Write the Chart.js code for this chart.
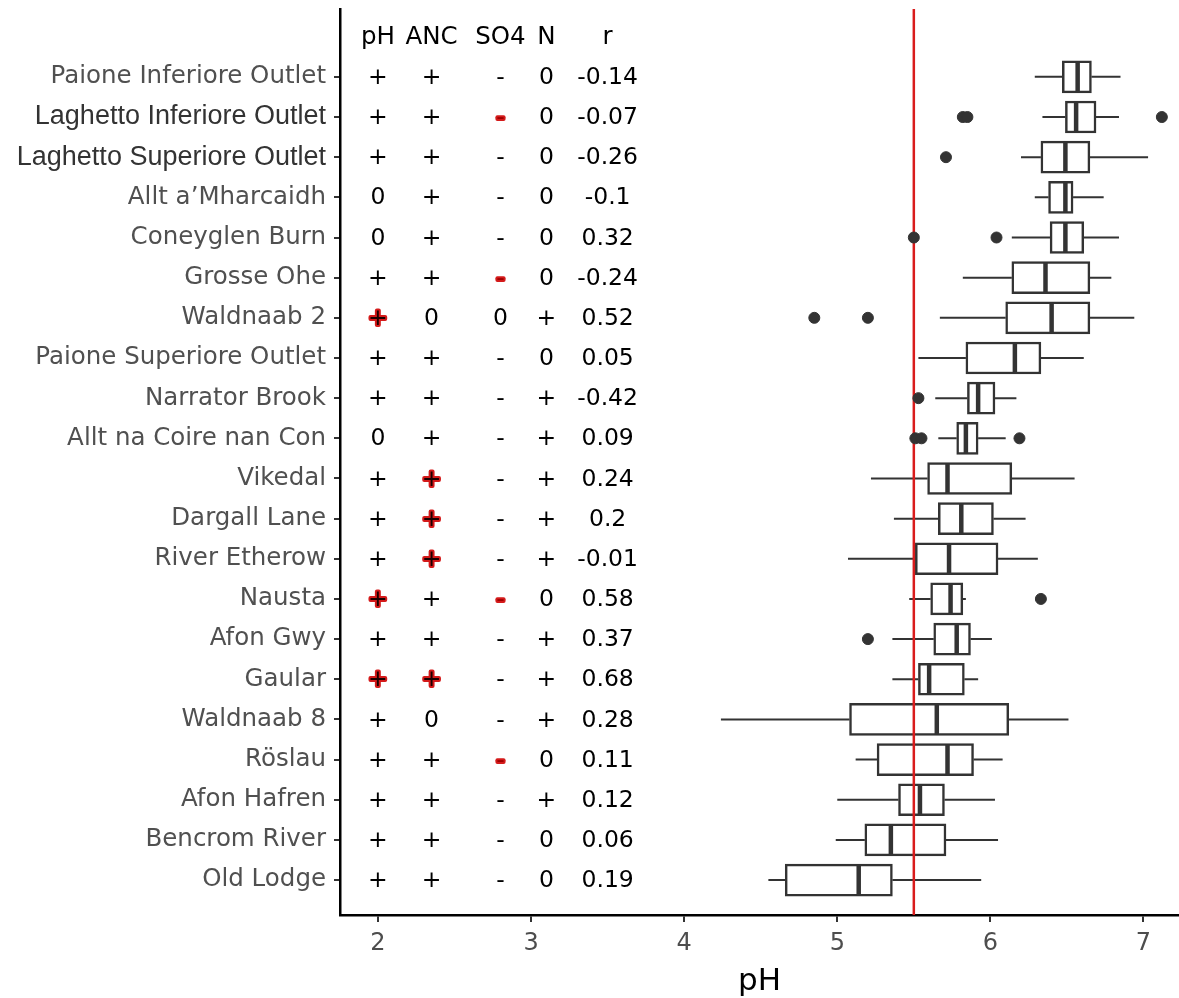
<!DOCTYPE html>
<html>
<head>
<meta charset="utf-8">
<title>pH by site</title>
<script src="https://cdn.jsdelivr.net/npm/chart.js@4.4.1/dist/chart.umd.min.js"></script>
<style>
  html, body { margin: 0; padding: 0; background: #fff; overflow: hidden; }
  #wrap { width: 1179px; height: 998px; position: relative; }
</style>
</head>
<body>
<div id="wrap"><canvas id="phChart"></canvas></div>
<script>
// sites, top to bottom as in the figure
const sites = [
  'Paione Inferiore Outlet', 'Laghetto Inferiore Outlet', 'Laghetto Superiore Outlet',
  'Allt a\u2019Mharcaidh', 'Coneyglen Burn', 'Grosse Ohe', 'Waldnaab 2',
  'Paione Superiore Outlet', 'Narrator Brook', 'Allt na Coire nan Con', 'Vikedal',
  'Dargall Lane', 'River Etherow', 'Nausta', 'Afon Gwy', 'Gaular', 'Waldnaab 8',
  'Röslau', 'Afon Hafren', 'Bencrom River', 'Old Lodge'
];

// boxplot statistics (pH)
const whiskerLow  = [6.29, 6.34, 6.20, 6.29, 6.14, 5.82, 5.67, 5.53, 5.64, 5.66, 5.22, 5.37, 5.07, 5.47, 5.36, 5.36, 4.24, 5.12, 5.00, 4.99, 4.55];
const q1          = [6.47, 6.49, 6.33, 6.38, 6.39, 6.14, 6.10, 5.84, 5.85, 5.78, 5.59, 5.66, 5.51, 5.61, 5.63, 5.53, 5.08, 5.26, 5.40, 5.18, 4.66];
const median      = [6.57, 6.56, 6.49, 6.49, 6.49, 6.36, 6.40, 6.16, 5.92, 5.84, 5.72, 5.81, 5.73, 5.74, 5.78, 5.60, 5.65, 5.72, 5.54, 5.35, 5.14];
const q3          = [6.66, 6.69, 6.65, 6.54, 6.61, 6.65, 6.65, 6.33, 6.03, 5.92, 6.14, 6.02, 6.05, 5.82, 5.87, 5.83, 6.12, 5.89, 5.70, 5.71, 5.36];
const whiskerHigh = [6.85, 6.84, 7.03, 6.74, 6.84, 6.79, 6.94, 6.61, 6.17, 6.10, 6.55, 6.23, 6.31, 5.84, 6.01, 5.92, 6.51, 6.08, 6.03, 6.05, 5.94];
const outliers = [
  [], [5.82, 5.85, 7.12], [5.71], [], [5.50, 6.04], [], [4.85, 5.20],
  [], [5.53], [5.51, 5.55, 6.19], [], [], [], [6.33], [5.20], [], [],
  [], [], [], []
];

// trend table ('*' = significant, shown in red)
const tableHeaders = ['pH', 'ANC', 'SO4', 'N', 'r'];
const phTrend  = ['+', '+', '+', '0', '0', '+', '+*', '+', '+', '0', '+', '+', '+', '+*', '+', '+*', '+', '+', '+', '+', '+'];
const ancTrend = ['+', '+', '+', '+', '+', '+', '0', '+', '+', '+', '+*', '+*', '+*', '+', '+', '+*', '0', '+', '+', '+', '+'];
const so4Trend = ['-', '-*', '-', '-', '-', '-*', '0', '-', '-', '-', '-', '-', '-', '-*', '-', '-', '-', '-*', '-', '-', '-'];
const nTrend   = ['0', '0', '0', '0', '0', '0', '+', '0', '+', '+', '+', '+', '+', '0', '+', '+', '+', '0', '+', '0', '0'];
const rValues  = [-0.14, -0.07, -0.26, -0.1, 0.32, -0.24, 0.52, 0.05, -0.42, 0.09, 0.24, 0.2, -0.01, 0.58, 0.37, 0.68, 0.28, 0.11, 0.12, 0.06, 0.19];

const xTicks = [2, 3, 4, 5, 6, 7];
const threshold = 5.5;

// axis ranges
const xMin = 1.752, xMax = 7.232;
const yMin = 0.13, yMax = 22.69;

// where the table columns sit, in pH units
const tableCols = [2, 2.35, 2.8, 3.1, 3.5];
const bigLabels = ['Laghetto Inferiore Outlet', 'Laghetto Superiore Outlet'];

const n = sites.length;
const pos = sites.map((s, i) => n - i);

const boxData = sites.map((s, i) => ({ y: pos[i], x: [q1[i], q3[i]] }));
const medianData = sites.map((s, i) => ({ x: median[i], y: pos[i] }));
const whiskerData = [];
sites.forEach((s, i) => {
  whiskerData.push(
    { x: whiskerLow[i], y: pos[i] }, { x: q1[i], y: pos[i] }, { x: NaN, y: NaN },
    { x: q3[i], y: pos[i] }, { x: whiskerHigh[i], y: pos[i] }, { x: NaN, y: NaN }
  );
});
const outlierData = [];
outliers.forEach((list, i) => list.forEach(v => outlierData.push({ x: v, y: pos[i] })));

// draws the pH / ANC / SO4 / N / r table inside the plot
const tablePlugin = {
  id: 'trendTable',
  afterDatasetsDraw(chart) {
    const { ctx, scales: { x, y } } = chart;
    ctx.save();
    ctx.textAlign = 'center';
    ctx.textBaseline = 'middle';
    ctx.lineJoin = 'round';

    ctx.font = '24.5px "DejaVu Sans", sans-serif';
    ctx.fillStyle = '#000';
    tableHeaders.forEach((h, j) => {
      ctx.fillText(h, x.getPixelForValue(tableCols[j]), y.getPixelForValue(n + 1) + 1);
    });

    ctx.font = '23.5px "DejaVu Sans", sans-serif';
    sites.forEach((s, i) => {
      const py = y.getPixelForValue(pos[i]) + 1;
      const cells = [phTrend[i], ancTrend[i], so4Trend[i], nTrend[i], String(rValues[i])];
      cells.forEach((cell, j) => {
        const px = x.getPixelForValue(tableCols[j]);
        const sig = cell.endsWith('*');
        const txt = sig ? cell.slice(0, -1) : cell;
        if (sig) {
          ctx.strokeStyle = '#d41a1a';
          ctx.lineWidth = 4;
          ctx.strokeText(txt, px, py);
          ctx.fillStyle = txt === '-' ? '#a00000' : '#1a0000';
        } else {
          ctx.fillStyle = '#000';
        }
        ctx.fillText(txt, px, py);
      });
    });
    ctx.restore();
  }
};

const ctx = document.getElementById('phChart').getContext('2d');

new Chart(ctx, {
  type: 'bar',
  data: {
    datasets: [
      {
        type: 'scatter',
        data: outlierData,
        pointRadius: 5.5,
        backgroundColor: '#333',
        borderColor: '#333',
        borderWidth: 1,
        order: 1
      },
      {
        type: 'scatter',
        data: medianData,
        pointStyle: 'line',
        rotation: 90,
        pointRadius: 15,
        borderColor: '#333',
        borderWidth: 4.5,
        order: 2
      },
      {
        type: 'line',
        data: [{ x: threshold, y: yMin }, { x: threshold, y: yMax }],
        borderColor: '#d91c1c',
        borderWidth: 2.5,
        pointRadius: 0,
        fill: false,
        order: 3
      },
      {
        type: 'line',
        data: whiskerData,
        borderColor: '#333',
        borderWidth: 2,
        pointRadius: 0,
        fill: false,
        spanGaps: false,
        order: 4
      },
      {
        type: 'bar',
        data: boxData,
        backgroundColor: '#fff',
        borderColor: '#333',
        borderWidth: 2.5,
        borderSkipped: false,
        barThickness: 32,
        order: 5
      }
    ]
  },
  options: {
    indexAxis: 'y',
    responsive: true,
    maintainAspectRatio: false,
    animation: false,
    events: [],
    layout: { autoPadding: false, padding: { top: 9, right: 0, bottom: 0, left: 0 } },
    scales: {
      x: {
        type: 'linear',
        min: xMin,
        max: xMax,
        beginAtZero: false,
        offset: false,
        afterBuildTicks: s => { s.ticks = xTicks.map(v => ({ value: v })); },
        afterFit: s => { s.height = 83; s.paddingLeft = 0; s.paddingRight = 0; },
        ticks: {
          color: '#4d4d4d',
          font: { family: '"DejaVu Sans", sans-serif', size: 24 },
          padding: 7,
          callback: v => String(v)
        },
        grid: { display: true, offset: false, drawOnChartArea: false, drawTicks: true, tickLength: 7, color: '#333', tickColor: '#333', lineWidth: 2 },
        border: { display: true, color: '#000', width: 2.5 },
        title: {
          display: true,
          text: 'pH',
          color: '#000',
          font: { family: '"DejaVu Sans", sans-serif', size: 31, lineHeight: 1 },
          padding: { top: 0, bottom: 1 }
        }
      },
      y: {
        type: 'linear',
        min: yMin,
        max: yMax,
        offset: false,
        afterBuildTicks: s => { s.ticks = pos.map(v => ({ value: v })); },
        afterFit: s => { s.width = 340; s.paddingTop = 0; s.paddingBottom = 0; },
        ticks: {
          autoSkip: false,
          padding: 8,
          callback: v => sites[n - v],
          color: c => (c.tick && bigLabels.includes(sites[n - c.tick.value])) ? '#333' : '#505050',
          font: c => (c.tick && bigLabels.includes(sites[n - c.tick.value]))
            ? { family: '"Liberation Sans", Arial, sans-serif', size: 27 }
            : { family: '"DejaVu Sans", sans-serif', size: 24.5 }
        },
        grid: { display: true, offset: false, drawOnChartArea: false, drawTicks: true, tickLength: 6, color: '#333', tickColor: '#333', lineWidth: 2 },
        border: { display: true, color: '#000', width: 2.5 }
      }
    },
    plugins: {
      legend: { display: false },
      tooltip: { enabled: false }
    }
  },
  plugins: [tablePlugin]
});
</script>
</body>
</html>
